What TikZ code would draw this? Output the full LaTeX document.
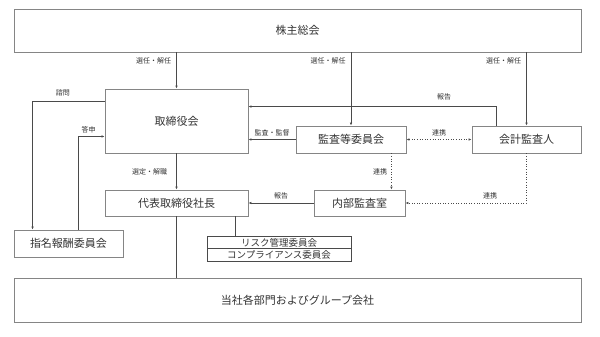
\documentclass[tikz,border=0pt]{standalone}
\usepackage{fontspec}
\setmainfont{Noto Sans CJK JP}
\usetikzlibrary{arrows.meta}
\definecolor{boxgray}{HTML}{858585}
\definecolor{linegray}{HTML}{4A4A4A}
\definecolor{textgray}{HTML}{333333}
\tikzset{
  orgbox/.style={draw=boxgray, line width=0.9pt, fill=white, inner sep=0pt, text=textgray, font=\fontsize{11}{13}\selectfont},
  smallbox/.style={draw=linegray, line width=0.6pt, inner sep=0pt, text=textgray, minimum width=144pt, minimum height=12.5pt, font=\fontsize{9.5}{10}\selectfont},
  link/.style={draw=linegray, line width=0.6pt},
  tip/.style={-{Latex[length=3pt,width=2.6pt]}},
  lbl/.style={text=textgray, font=\fontsize{7}{8}\selectfont, inner sep=1pt}
}
\begin{document}
\begin{tikzpicture}[x=1pt, y=-1pt]
    \useasboundingbox[fill=white] (0,0) rectangle (600,337);
    % boxes
    \node[orgbox, minimum width=567pt, minimum height=43pt] (gm) at (297.5,30.5) {株主総会};
    \node[orgbox, minimum width=143pt, minimum height=64pt] (bod) at (176.5,121) {取締役会};
    \node[orgbox, minimum width=143pt, minimum height=26pt] (pres) at (176.5,203) {代表取締役社長};
    \node[orgbox, minimum width=109pt, minimum height=27pt] (nc) at (68.5,243.5) {指名報酬委員会};
    \node[orgbox, minimum width=110pt, minimum height=27pt] (ac) at (351,139.5) {監査等委員会};
    \node[orgbox, minimum width=109pt, minimum height=27pt] (aud) at (526.5,139.5) {会計監査人};
    \node[orgbox, minimum width=91pt, minimum height=26pt] (ia) at (359.5,203) {内部監査室};
    \node[smallbox] (risk) at (279,242.5) {リスク管理委員会};
    \node[smallbox] (comp) at (279,255) {コンプライアンス委員会};
    \node[orgbox, minimum width=567pt, minimum height=44pt] (grp) at (297.5,300) {当社各部門およびグループ会社};
    % shareholders
    \draw[link, tip] (bod |- gm.south) -- (bod.north) node[lbl, pos=0.24, left=4pt] {選任・解任};
    \draw[link, tip] (ac |- gm.south) -- (ac.north) node[lbl, pos=0.12, left=4pt] {選任・解任};
    \draw[link, tip] (aud |- gm.south) -- (aud.north) node[lbl, pos=0.12, left=4pt] {選任・解任};
    % board and nomination committee
    \draw[link, tip] ([yshift=-13pt]bod.north west) -| ([xshift=19pt]nc.north west) node[lbl, pos=0.29, above=4pt] {諮問};
    \draw[link, tip] ([xshift=9.5pt]nc.north) |- ([yshift=17pt]bod.south west) node[lbl, pos=0.7, above=2pt] {答申};
    \draw[link, tip] (bod.south) -- (pres.north) node[lbl, midway, left=8pt] {選定・解職};
    \draw[link] (pres.south) -- (pres.south |- grp.north);
    \draw[link] ([xshift=58.5pt]pres.south) -- ([xshift=58.5pt]pres.south |- risk.north);
    % audit
    \draw[link, tip] ([xshift=-30.5pt]aud.north) |- ([yshift=-18pt]bod.north east) node[lbl, pos=0.605, above=5pt] {報告};
    \draw[link, tip] (ac.west) -- (bod.east |- ac.west) node[lbl, midway, above=2pt] {監査・監督};
    \draw[link, dotted, {Latex[length=3pt,width=2.6pt]}-{Latex[length=3pt,width=2.6pt]}] (ac.east) -- (aud.west) node[lbl, midway, above=2pt] {連携};
    \draw[link, dotted, tip] ([xshift=-15pt]ac.south east) -- ([xshift=-15pt]ac.south east |- ia.north) node[lbl, midway, left=3pt] {連携};
    \draw[link, dotted, tip] (aud.south) |- (ia.east) node[lbl, pos=0.65, above=3pt] {連携};
    \draw[link, tip] (ia.west) -- (pres.east) node[lbl, midway, above=3pt] {報告};
\end{tikzpicture}
\end{document}
